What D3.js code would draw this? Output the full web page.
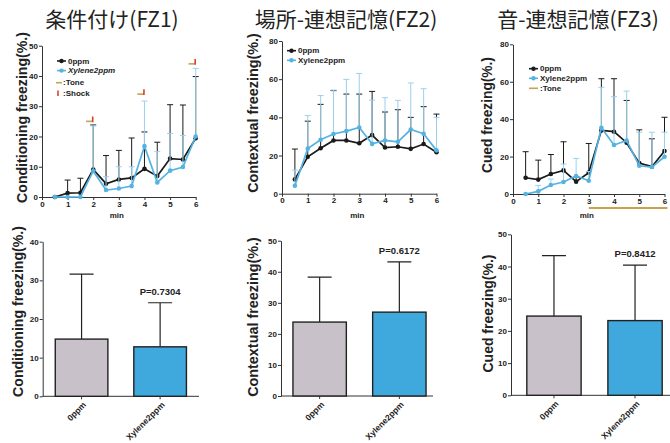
<!DOCTYPE html>
<html>
<head>
<meta charset="utf-8">
<script src="https://cdn.jsdelivr.net/npm/d3@7"></script>
<style>
  body { margin: 0; background: #fff; }
  svg { display: block; font-family: "Liberation Sans", Arial, sans-serif; }
  .tick text { font-weight: bold; font-size: 8px; fill: #222; font-family: "Liberation Sans", Arial, sans-serif; }
  .domain, .tick line { stroke: #333; }
</style>
</head>
<body>
<svg id="chart" width="670" height="443"></svg>
<script>
// time bins (min)
const times = [0.5, 1, 1.5, 2, 2.5, 3, 3.5, 4, 4.5, 5, 5.5, 6];
const groups = ['0ppm', 'Xylene2ppm'];

// FZ1 conditioning: mean and SD per bin
const fz1Ctrl = [0, 1.3, 1.4, 9.1, 4.4, 5.8, 6.3, 9.3, 6.9, 12.7, 12.4, 19.4];
const fz1CtrlSd = [0, 4.3, 4.8, 14.7, 9.3, 9.6, 13.2, 12.2, 11.2, 17.8, 18.0, 20.4];
const fz1Xyl = [0, 0, 0, 8.6, 2.3, 2.8, 3.6, 16.8, 4.8, 8.7, 9.9, 20.0];
const fz1XylSd = [0, 0, 0, 14.9, 4.4, 7.2, 6.4, 14.9, 10.2, 12.3, 10.4, 22.5];
const shockTimes = [2, 4, 6];
const shockLevels = [25, 34, 44];

// FZ2 contextual
const fz2Ctrl = [7.5, 19.3, 23.8, 27.9, 27.9, 26.4, 30.7, 24.2, 24.6, 23.5, 26.0, 21.7];
const fz2CtrlSd = [15.9, 18.7, 23.0, 26.1, 24.3, 25.8, 22.9, 18.6, 19.4, 16.5, 19.6, 20.0];
const fz2Xyl = [4.2, 23.6, 28.3, 31.3, 32.8, 34.7, 26.1, 27.9, 27.2, 33.6, 31.4, 22.7];
const fz2XylSd = [8.2, 17.3, 23.1, 23.0, 27.1, 28.3, 22.9, 22.4, 21.7, 24.4, 23.6, 17.3];

// FZ3 cued
const fz3Ctrl = [8.7, 7.7, 10.7, 12.6, 6.6, 11.4, 34.0, 33.3, 27.4, 16.5, 14.6, 23.0];
const fz3CtrlSd = [13.9, 10.4, 10.4, 15.3, 2.4, 15.6, 27.6, 28.3, 22.6, 17.8, 14.9, 18.0];
const fz3Xyl = [0, 1.4, 4.8, 6.4, 9.6, 7.1, 35.4, 26.2, 28.6, 15.1, 14.4, 19.9];
const fz3XylSd = [0, 3.2, 3.2, 9.6, 9.4, 4.9, 21.6, 25.8, 26.4, 17.9, 18.6, 13.1];
const toneSpan = [3, 6];

// summary bars (mean, SD) and p values
const fz1Bar = [14.8, 12.8];
const fz1BarSd = [16.8, 11.4];
const fz2Bar = [23.8, 27.0];
const fz2BarSd = [14.5, 16.2];
const fz3Bar = [24.6, 23.2];
const fz3BarSd = [18.8, 17.2];
const pValues = ['P=0.7304', 'P=0.6172', 'P=0.8412'];

const BLACK = '#1a1a1a';
const BLUE = '#55b3e2';
const BLUE_ERR = '#9ad0ee';
const TONE = '#c9a250';
const SHOCK = '#d8432c';
const LATIN = '"Liberation Sans", Arial, sans-serif';

const svg = d3.select('#chart');

// rotated y label, font size fitted so the label spans `span` px
function yLabel(g, text, cx, cy, span) {
  const t = g.append('text')
    .attr('transform', 'translate(' + cx + ',' + cy + ') rotate(-90)')
    .attr('text-anchor', 'middle')
    .attr('dominant-baseline', 'central')
    .style('font-family', LATIN)
    .style('font-size', '14px')
    .style('font-weight', 'bold')
    .attr('fill', '#222')
    .text(text);
  const len = t.node().getComputedTextLength();
  if (len > 0) t.style('font-size', Math.min(16.5, 14 * span / len) + 'px');
}

function series(g, x, y, mean, sd, color, errColor) {
  const pts = times.map(function (t, i) { return { t: t, m: mean[i], s: sd[i] }; });

  // upward error bars
  g.append('g').selectAll('path')
    .data(pts.filter(function (d) { return d.s > 0; }))
    .join('path')
    .attr('d', function (d) {
      const top = y(d.m + d.s);
      return 'M' + x(d.t) + ',' + y(d.m) + 'V' + top + 'M' + (x(d.t) - 3) + ',' + top + 'h6';
    })
    .attr('fill', 'none')
    .attr('stroke', errColor)
    .attr('stroke-width', 1);

  const line = d3.line()
    .x(function (d) { return x(d.t); })
    .y(function (d) { return y(d.m); });

  g.append('path')
    .datum(pts)
    .attr('d', line)
    .attr('fill', 'none')
    .attr('stroke', color)
    .attr('stroke-width', 1.7);

  g.append('g').selectAll('circle')
    .data(pts)
    .join('circle')
    .attr('cx', function (d) { return x(d.t); })
    .attr('cy', function (d) { return y(d.m); })
    .attr('r', 2.3)
    .attr('fill', color);
}

function smallText(g, tx, ty, label, italic) {
  return g.append('text').attr('x', tx).attr('y', ty).attr('dominant-baseline', 'central')
    .style('font-family', LATIN)
    .style('font-size', '8px').style('font-weight', 'bold')
    .style('font-style', italic ? 'italic' : 'normal')
    .attr('fill', '#222').text(label);
}

function legendRow(g, lx, ly, color, label, italic) {
  g.append('line').attr('x1', lx).attr('x2', lx + 9).attr('y1', ly).attr('y2', ly)
    .attr('stroke', color).attr('stroke-width', 1.6);
  g.append('circle').attr('cx', lx + 4.5).attr('cy', ly).attr('r', 2.2).attr('fill', color);
  smallText(g, lx + 11, ly, label, italic);
}

function linePanel(p) {
  const g = svg.append('g');
  const x = d3.scaleLinear().domain([0, 6]).range([p.left, p.right]);
  const y = d3.scaleLinear().domain([0, p.yMax]).range([p.bottom, p.top]);

  g.append('text')
    .attr('x', p.titleX).attr('y', 27)
    .attr('text-anchor', 'middle')
    .style('font-family', '"Noto Sans CJK JP", sans-serif')
    .style('font-size', '21px')
    .attr('fill', '#222')
    .text(p.title);

  g.append('g')
    .attr('transform', 'translate(0,' + p.bottom + ')')
    .call(d3.axisBottom(x).tickValues(d3.range(0, 7)).tickFormat(d3.format('d'))
      .tickSize(3).tickSizeOuter(0).tickPadding(1));

  g.append('g')
    .attr('transform', 'translate(' + p.left + ',0)')
    .call(d3.axisLeft(y).tickValues(d3.range(0, p.yMax + 1, p.yStep)).tickFormat(d3.format('d'))
      .tickSize(3).tickSizeOuter(0).tickPadding(1));

  g.append('text')
    .attr('x', (p.left + p.right) / 2 - 2).attr('y', 217.5)
    .attr('text-anchor', 'middle')
    .style('font-family', LATIN)
    .style('font-size', '8px').style('font-weight', 'bold')
    .attr('fill', '#222')
    .text('min');

  yLabel(g, p.ylabel, p.labelX, p.labelY, p.labelSpan);

  series(g, x, y, p.ctrl, p.ctrlSd, BLACK, BLACK);
  series(g, x, y, p.xyl, p.xylSd, BLUE, BLUE_ERR);

  legendRow(g, p.legX, p.legY, BLACK, groups[0], false);
  legendRow(g, p.legX, p.legY + 9.6, BLUE, groups[1], p.italic);

  return { g: g, x: x, y: y };
}

function barPanel(p) {
  const g = svg.append('g');
  const x = d3.scaleBand().domain(groups).range([p.left, p.right])
    .paddingInner(0.33).paddingOuter(p.outer);
  const y = d3.scaleLinear().domain([0, p.yMax]).range([p.bottom, p.top]);

  g.append('g')
    .attr('transform', 'translate(' + p.left + ',0)')
    .call(d3.axisLeft(y).ticks(p.yMax / 10).tickFormat(d3.format('d'))
      .tickSize(3).tickSizeOuter(0).tickPadding(1));

  g.append('line')
    .attr('x1', p.left).attr('x2', p.axisEnd)
    .attr('y1', p.bottom).attr('y2', p.bottom)
    .attr('stroke', '#333');

  const rows = groups.map(function (k, i) { return { k: k, m: p.mean[i], s: p.sd[i] }; });

  // error bars behind bars
  g.append('g').selectAll('path')
    .data(rows)
    .join('path')
    .attr('d', function (d) {
      const cx = x(d.k) + x.bandwidth() / 2;
      const top = y(d.m + d.s);
      return 'M' + cx + ',' + y(d.m) + 'V' + top + 'M' + (cx - 12) + ',' + top + 'h24';
    })
    .attr('fill', 'none')
    .attr('stroke', '#222')
    .attr('stroke-width', 1.2);

  g.append('g').selectAll('rect')
    .data(rows)
    .join('rect')
    .attr('x', function (d) { return x(d.k); })
    .attr('y', function (d) { return y(d.m); })
    .attr('width', x.bandwidth())
    .attr('height', function (d) { return p.bottom - y(d.m); })
    .attr('fill', function (d, i) { return i === 0 ? '#c8c1ca' : '#3fa8dd'; })
    .attr('stroke', '#222')
    .attr('stroke-width', 1.4);

  // small category ticks
  g.append('g').selectAll('line')
    .data(groups)
    .join('line')
    .attr('x1', function (d) { return x(d) + x.bandwidth() / 2; })
    .attr('x2', function (d) { return x(d) + x.bandwidth() / 2; })
    .attr('y1', p.bottom).attr('y2', p.bottom + 3)
    .attr('stroke', '#333');

  // category labels, rotated
  g.append('g').selectAll('text')
    .data(groups)
    .join('text')
    .attr('transform', function (d) {
      return 'translate(' + (x(d) + x.bandwidth() / 2 + 3) + ',' + (p.bottom + 7) + ') rotate(-45)';
    })
    .attr('text-anchor', 'end')
    .attr('dominant-baseline', 'central')
    .style('font-family', LATIN)
    .style('font-size', '8.5px').style('font-weight', 'bold')
    .attr('fill', '#222')
    .text(function (d) { return d; });

  const last = rows[1];
  g.append('text')
    .attr('x', x(last.k) + x.bandwidth() / 2)
    .attr('y', y(last.m + last.s) - 8)
    .attr('text-anchor', 'middle')
    .style('font-family', LATIN)
    .style('font-size', '9.5px').style('font-weight', 'bold')
    .attr('fill', '#222')
    .text(p.pText);

  yLabel(g, p.ylabel, p.labelX, p.labelY, p.labelSpan);
}

// ---- top row: time courses ----
const p1 = linePanel({
  title: '条件付け(FZ1)', titleX: 112,
  ylabel: 'Conditioning freezing(%.)', labelX: 22, labelY: 117.5, labelSpan: 171,
  left: 42, right: 195.7, top: 45.7, bottom: 197, yMax: 50, yStep: 10,
  ctrl: fz1Ctrl, ctrlSd: fz1CtrlSd, xyl: fz1Xyl, xylSd: fz1XylSd,
  legX: 57, legY: 61, italic: true
});

// tone / shock markers for conditioning
const shocks = shockTimes.map(function (t, i) { return { t: t, v: shockLevels[i] }; });
p1.g.append('g').selectAll('path')
  .data(shocks)
  .join('path')
  .attr('d', function (d) {
    return 'M' + p1.x(d.t - 0.28) + ',' + p1.y(d.v) + 'H' + p1.x(d.t - 0.06);
  })
  .attr('stroke', TONE).attr('stroke-width', 1.6);
p1.g.append('g').selectAll('path')
  .data(shocks)
  .join('path')
  .attr('d', function (d) {
    return 'M' + p1.x(d.t - 0.06) + ',' + p1.y(d.v) + 'H' + p1.x(d.t - 0.02) + 'V' + p1.y(d.v + 1.6);
  })
  .attr('fill', 'none')
  .attr('stroke', SHOCK).attr('stroke-width', 1.6);

p1.g.append('line').attr('x1', 56).attr('x2', 62).attr('y1', 82.7).attr('y2', 82.7)
  .attr('stroke', TONE).attr('stroke-width', 1.6);
smallText(p1.g, 63, 82.7, ':Tone', false);
p1.g.append('line').attr('x1', 58).attr('x2', 58).attr('y1', 90.5).attr('y2', 96)
  .attr('stroke', SHOCK).attr('stroke-width', 1.6);
smallText(p1.g, 63, 93.3, ':Shock', false);

linePanel({
  title: '場所-連想記憶(FZ2)', titleX: 346,
  ylabel: 'Contextual freezing(%.)', labelX: 253, labelY: 113, labelSpan: 160,
  left: 282, right: 436.5, top: 41, bottom: 193.7, yMax: 80, yStep: 20,
  ctrl: fz2Ctrl, ctrlSd: fz2CtrlSd, xyl: fz2Xyl, xylSd: fz2XylSd,
  legX: 287, legY: 50.7, italic: false
});

const p3 = linePanel({
  title: '音-連想記憶(FZ3)', titleX: 578,
  ylabel: 'Cued freezing(%.)', labelX: 487, labelY: 115, labelSpan: 116,
  left: 513, right: 664.5, top: 44.3, bottom: 194, yMax: 80, yStep: 20,
  ctrl: fz3Ctrl, ctrlSd: fz3CtrlSd, xyl: fz3Xyl, xylSd: fz3XylSd,
  legX: 529, legY: 68.7, italic: false
});

p3.g.append('line')
  .attr('x1', p3.x(toneSpan[0])).attr('x2', p3.x(toneSpan[1]) + 3)
  .attr('y1', 208).attr('y2', 208)
  .attr('stroke', TONE).attr('stroke-width', 2);
p3.g.append('line').attr('x1', 529).attr('x2', 538).attr('y1', 88.3).attr('y2', 88.3)
  .attr('stroke', TONE).attr('stroke-width', 1.6);
smallText(p3.g, 540, 88.3, ':Tone', false);

// ---- bottom row: summaries ----
barPanel({
  ylabel: 'Conditioning freezing(%.)', labelX: 18, labelY: 311.5, labelSpan: 171,
  left: 42.7, right: 199, axisEnd: 199, outer: 0.16, top: 241.7, bottom: 396.3, yMax: 40,
  mean: fz1Bar, sd: fz1BarSd, pText: pValues[0]
});

barPanel({
  ylabel: 'Contextual freezing(%.)', labelX: 253, labelY: 317, labelSpan: 160,
  left: 281, right: 438, axisEnd: 433, outer: 0.15, top: 240.7, bottom: 396, yMax: 50,
  mean: fz2Bar, sd: fz2BarSd, pText: pValues[1]
});

barPanel({
  ylabel: 'Cued freezing(%.)', labelX: 488, labelY: 313.5, labelSpan: 118,
  left: 511, right: 678, axisEnd: 670, outer: 0.195, top: 234.3, bottom: 395.3, yMax: 50,
  mean: fz3Bar, sd: fz3BarSd, pText: pValues[2]
});
</script>
</body>
</html>
